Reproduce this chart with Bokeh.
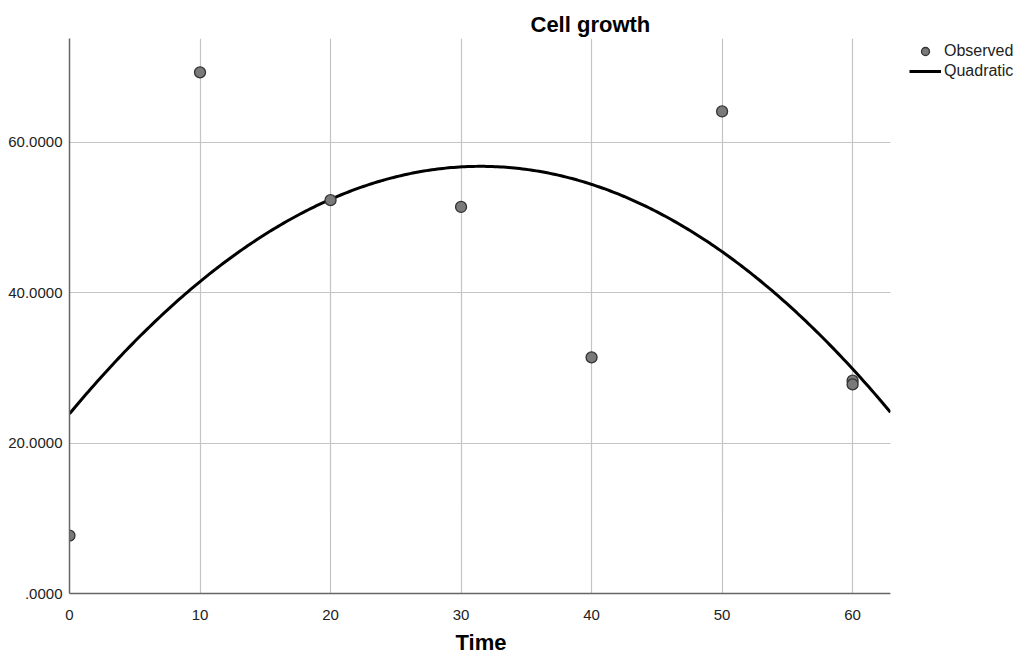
import numpy as np
from bokeh.plotting import figure
from bokeh.models import (Range1d, FixedTicker, Legend, LegendItem, ColumnDataSource,
                          BoxAnnotation, Title)
from bokeh.embed import file_html
from bokeh.resources import INLINE

time_obs = [0, 10, 20, 30, 40, 50, 60, 60]
growth_obs = [7.7, 69.3, 52.3, 51.4, 31.4, 64.1, 28.3, 27.8]

# Quadratic model coefficients
quad_b0 = 23.9
quad_b1 = 2.089
quad_b2 = -0.03316

x_ticks = [0, 10, 20, 30, 40, 50, 60]
y_ticks = [0, 20, 40, 60]
y_tick_labels = [".0000", "20.0000", "40.0000", "60.0000"]
x_max = 62.9          # end of the plotted time axis
x_view_end = 73.4     # extra room on the right keeps the legend inside the frame
y_max = 73.8
title_text = "Cell growth"
x_label = "Time"

FONT = "Liberation Sans"

p = figure(frame_width=958, frame_height=555, output_backend="svg",
           toolbar_location=None,
           x_range=Range1d(0, x_view_end), y_range=Range1d(0, y_max),
           min_border_left=69, min_border_right=0, min_border_top=38,
           min_border_bottom=68)
p.outline_line_color = None
p.background_fill_color = "white"

p.title.text = title_text
p.title.align = "left"
p.title.offset = 461
p.title.text_font = FONT
p.title.text_font_size = "22px"
p.title.text_font_style = "bold"
p.title.text_color = "#000000"
p.title.standoff = 4

# axes
p.xaxis.ticker = FixedTicker(ticks=x_ticks)
p.xaxis.bounds = (0, x_max)
p.yaxis.ticker = FixedTicker(ticks=y_ticks)
p.yaxis.major_label_overrides = {t: l for t, l in zip(y_ticks, y_tick_labels)}
for ax in (p.xaxis, p.yaxis):
    ax.axis_line_color = "#666666"
    ax.axis_line_width = 1.5
    ax.major_tick_line_color = None
    ax.minor_tick_line_color = None
    ax.major_label_text_font = FONT
    ax.major_label_text_font_size = "15px"
    ax.major_label_text_color = "#222222"
p.yaxis.major_label_standoff = 1
p.xaxis.major_label_standoff = 10

x_title = Title(text=x_label, align="left", offset=386, text_font=FONT,
                text_font_size="22px", text_font_style="bold",
                text_color="#000000", standoff=11)
p.add_layout(x_title, "below")

# grid
p.xgrid.grid_line_color = "#c4c4c4"
p.ygrid.grid_line_color = "#c4c4c4"
p.xgrid.grid_line_width = 1.2
p.ygrid.grid_line_width = 1.2

# curve
xs = np.linspace(0, x_max, 300)
ys = quad_b0 + quad_b1 * xs + quad_b2 * xs ** 2
curve = p.line(xs, ys, line_color="black", line_width=3)

obs_src = ColumnDataSource(dict(x=time_obs, y=growth_obs))
pts = p.scatter("x", "y", source=obs_src, size=11, fill_color="#7a7a7a",
                line_color="#333333", line_width=1.3)

# blank out the area right of the plotted axis (legend area)
p.add_layout(BoxAnnotation(left=x_max, right=x_view_end + 10, bottom=-10, top=y_max + 10,
                           fill_color="white", fill_alpha=1.0, line_color=None))

legend = Legend(items=[LegendItem(label="Observed", renderers=[pts]),
                       LegendItem(label="Quadratic", renderers=[curve])],
                location=(840, 512), orientation="vertical")
legend.border_line_color = None
legend.background_fill_alpha = 0
legend.padding = 0
legend.margin = 0
legend.spacing = 0
legend.glyph_width = 32
legend.glyph_height = 20
legend.label_height = 20
legend.label_standoff = 3
legend.label_text_font = FONT
legend.label_text_font_size = "16px"
legend.label_text_color = "#222222"
p.add_layout(legend, "center")

open("out.html", "w").write(file_html(p, INLINE))
